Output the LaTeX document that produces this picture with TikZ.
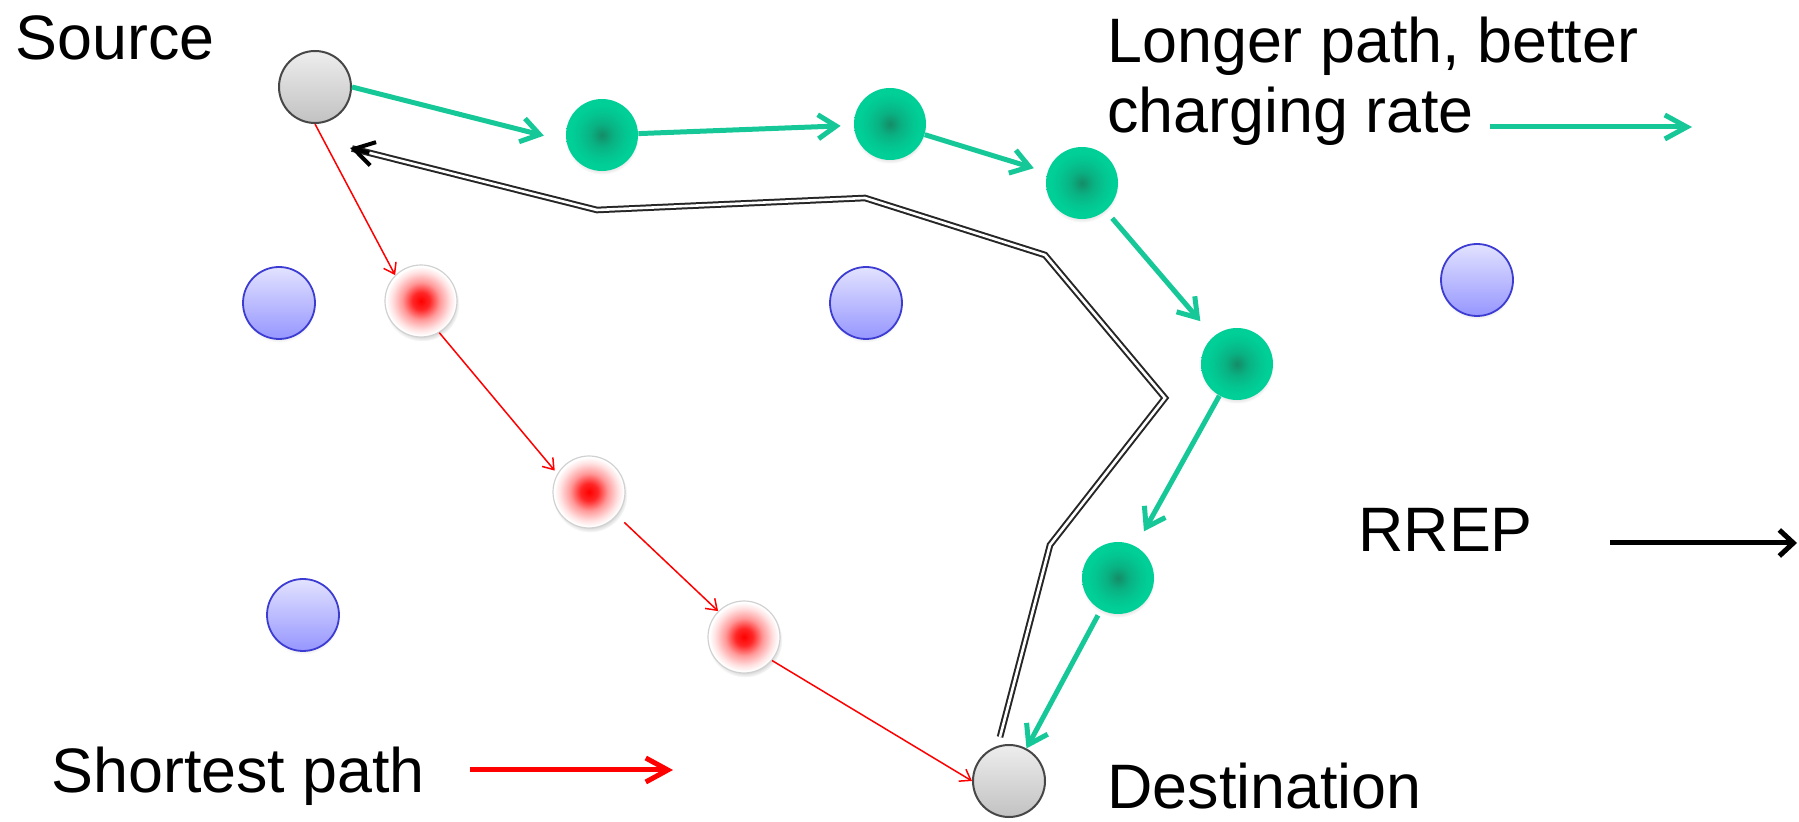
\documentclass[tikz,border=0pt]{standalone}
\usepackage{fontspec}
\setmainfont{Liberation Sans}
\usetikzlibrary{arrows.meta,shadows,calc}

\definecolor{tealA}{RGB}{22,200,152}
\definecolor{tealCore}{RGB}{20,140,104}
\definecolor{tealBody}{RGB}{0,208,152}
\definecolor{blueLine}{RGB}{60,60,210}
\definecolor{blueTop}{RGB}{226,226,255}
\definecolor{blueBot}{RGB}{150,150,255}

% shaded balls
\pgfdeclareradialshading{greenball}{\pgfpoint{0bp}{0bp}}{%
  color(0bp)=(tealCore); color(8bp)=(tealBody!55!tealCore);
  color(16bp)=(tealBody!85!tealCore); color(22bp)=(tealBody); color(50bp)=(tealBody)}
\pgfdeclareradialshading{redball}{\pgfpoint{0bp}{0bp}}{%
  color(0bp)=(red); color(6bp)=(red!85!white); color(13bp)=(red!40!white);
  color(20bp)=(red!12!white); color(24bp)=(white); color(50bp)=(white)}

\tikzset{
  lbl/.style={anchor=base west, inner sep=0pt, font=\fontsize{31.4}{36}\selectfont},
  ball/.style={circle, inner sep=0pt, minimum size=36pt},
  greyball/.style={ball, draw=black!72, line width=1pt, top color=black!7, bottom color=black!24},
  greenball/.style={ball, shading=greenball,
    circular drop shadow={shadow xshift=0pt, shadow yshift=-1.5pt, shadow scale=1.02, opacity=0.25}},
  redball/.style={ball, shading=redball, draw=black!18, line width=0.6pt,
    circular drop shadow={shadow xshift=0.5pt, shadow yshift=-1.5pt, shadow scale=1.04, opacity=0.35}},
  blueball/.style={ball, draw=blueLine, line width=0.9pt, top color=blueTop, bottom color=blueBot,
    circular drop shadow={shadow xshift=0pt, shadow yshift=-1.5pt, shadow scale=1.02, opacity=0.2}},
  garrow/.style={draw=tealA, line width=2.5pt, -{Straight Barb[length=9pt,width=12pt]}},
  rarrow/.style={draw=red, line width=0.75pt, -{Straight Barb[length=5pt,width=7pt]}},
  rrepline/.style={draw=black!85, line width=1pt, double=white, double distance=1.3pt, line join=miter},
}

\begin{document}
\begin{tikzpicture}[x=0.5pt,y=-0.5pt]
\useasboundingbox (0,0) rectangle (1799,822);
\clip (0,0) rectangle (1799,822);

% idle nodes
\node[blueball] (b1) at (279,303) {};
\node[blueball] (b2) at (866,303) {};
\node[blueball] (b3) at (1477,280) {};
\node[blueball] (b4) at (303,615) {};

% end points
\node[greyball] (src) at (315,87) {};
\node[greyball] (dst) at (1009,781) {};

% shortest path relays
\node[redball] (r1) at (421,301) {};
\node[redball] (r2) at (589,492) {};
\node[redball] (r3) at (744,637) {};

% longer path relays
\node[greenball] (g1) at (602,135) {};
\node[greenball] (g2) at (890,124) {};
\node[greenball] (g3) at (1082,183) {};
\node[greenball] (g4) at (1237,364) {};
\node[greenball] (g5) at (1118,578) {};

% labels
\node[lbl] (tsrc) at (15,60) {Source};
\node[lbl] (tlong1) at (1107,63) {Longer path, better};
\node[lbl] (tlong2) at (1107,133) {charging rate};
\node[lbl] (trrep) at (1358,552) {RREP};
\node[lbl] (tshort) at (51,792) {Shortest path};
\node[lbl] (tdst) at (1107,809) {Destination};

% route reply trace
\coordinate (p0) at (1000,737);
\coordinate (p1) at (1050,545);
\coordinate (p2) at (1165,398);
\coordinate (p3) at (1045,255);
\coordinate (p4) at (865,198);
\coordinate (p5) at (597,210);
\coordinate (p6) at (350,148);
\draw[rrepline] (p0) -- (p1) -- (p2) -- (p3) -- (p4) -- (p5) -- ($(p6)!1pt!(p5)$);
\draw[black, line width=2pt, -{Straight Barb[length=10pt,width=12pt]}] ($(p6)!10pt!(p5)$) -- (p6);

% longer path hops
\draw[garrow, shorten >=11.5pt] (src.east) -- (g1.190);
\draw[garrow, shorten >=6.5pt] (g1) -- (g2);
\draw[garrow, shorten >=7pt] (g2) -- (g3);
\draw[garrow, shorten <=5pt, shorten >=10pt] (g3) -- (g4);
\draw[garrow, shorten >=8.5pt] (g4) -- (g5);
\draw[garrow, shorten <=3pt] (g5) -- (dst);

% shortest path hops
\draw[rarrow] (src.south) -- (r1.north west);
\draw[rarrow, shorten >=2pt] (r1.-60) -- (r2.150);
\draw[rarrow, shorten <=5pt] (r2.-40) -- (r3.135);
\draw[rarrow] (r3.-40) -- (dst.west);

% legend arrows
\coordinate (gA) at (1490,127);
\coordinate (gB) at (1692,127);
\coordinate (rA) at (470,770);
\coordinate (rB) at (673,770);
\coordinate (kA) at (1610,543);
\coordinate (kB) at (1797,543);
\draw[garrow, -{Straight Barb[length=11pt,width=12pt]}] (gA) -- (gB);
\draw[red, line width=2.5pt, -{Straight Barb[length=11pt,width=12pt]}] (rA) -- (rB);
\draw[black, line width=2.5pt, -{Straight Barb[length=7pt,width=13pt]}] (kA) -- (kB);
\end{tikzpicture}
\end{document}
